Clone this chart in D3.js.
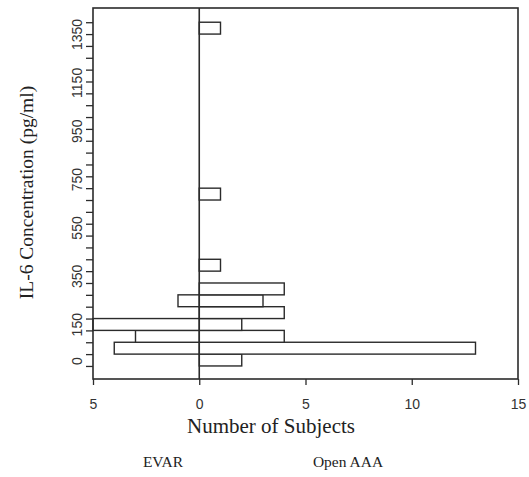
<!DOCTYPE html>
<html>
<head>
<meta charset="utf-8">
<script src="https://cdn.jsdelivr.net/npm/d3@7"></script>
<style>
  html, body { margin: 0; padding: 0; background: #fff; }
  svg { display: block; }
</style>
</head>
<body>
<svg id="chart" width="529" height="477"></svg>
<script>
// ---- Data ----
const binCenters = [0, 50, 100, 150, 200, 250, 300, 400, 700, 1400]; // IL-6 (pg/ml), bin width 50
const openAAACounts = [2, 13, 4, 2, 4, 3, 4, 1, 1, 1];
const evarCounts    = [0, 4, 3, 5, 0, 1, 0, 0, 0, 0];
const binWidth = 50;
const yTickLabels = [0, 150, 350, 550, 750, 950, 1150, 1350];
const xTickValues = [-5, 0, 5, 10, 15];
const xTickLabels = ["5", "0", "5", "10", "15"];
const groupLabels = ["EVAR", "Open AAA"];

(function () {
// ---- Layout ----
const mLeft = 93, mRight = 518, mTop = 8, mBottom = 379;
const ink = "#2b2b2b";

const svg = d3.select("#chart");

const x = d3.scaleLinear().domain([-5, 15]).range([mLeft, mRight]);
const y = d3.scaleLinear().domain([-80, 1485]).range([mBottom, mTop]);
// tick labels in the original sit on a slightly stretched scale
const yLabel = d3.scaleLinear().domain([0, 1350]).range([360.5, 34]);

const data = binCenters.map((b, i) => ({ b, open: openAAACounts[i], evar: evarCounts[i] }));

const g = svg.append("g");

g.selectAll("rect.open").data(data.filter(d => d.open > 0)).enter().append("rect")
  .attr("class", "open")
  .attr("x", x(0))
  .attr("y", d => y(d.b + binWidth / 2))
  .attr("width", d => x(d.open) - x(0))
  .attr("height", d => y(d.b - binWidth / 2) - y(d.b + binWidth / 2))
  .attr("fill", "#fff").attr("stroke", ink).attr("stroke-width", 1.4);

g.selectAll("rect.evar").data(data.filter(d => d.evar > 0)).enter().append("rect")
  .attr("class", "evar")
  .attr("x", d => x(-d.evar))
  .attr("y", d => y(d.b + binWidth / 2))
  .attr("width", d => x(0) - x(-d.evar))
  .attr("height", d => y(d.b - binWidth / 2) - y(d.b + binWidth / 2))
  .attr("fill", "#fff").attr("stroke", ink).attr("stroke-width", 1.4);

// zero line
svg.append("line")
  .attr("x1", x(0)).attr("x2", x(0)).attr("y1", mTop).attr("y2", mBottom)
  .attr("stroke", ink).attr("stroke-width", 1.6);

// frame
svg.append("rect")
  .attr("x", mLeft).attr("y", mTop).attr("width", mRight - mLeft).attr("height", mBottom - mTop)
  .attr("fill", "none").attr("stroke", ink).attr("stroke-width", 1.6);

// y minor ticks at bin edges
const yEdges = d3.range(-25, 1426, 50);
const yTicksAxis = svg.append("g").attr("transform", `translate(${mLeft},0)`)
  .call(d3.axisLeft(y).tickValues(yEdges).tickSize(7).tickFormat(""));
yTicksAxis.select(".domain").remove();
yTicksAxis.selectAll("line").attr("stroke", ink).attr("stroke-width", 1.3);

// y labels (rotated)
const yLabAxis = svg.append("g").attr("transform", `translate(${mLeft},0)`)
  .call(d3.axisLeft(yLabel).tickValues(yTickLabels).tickSize(0).tickPadding(0)
    .tickFormat(d3.format("d")));
yLabAxis.select(".domain").remove();
yLabAxis.selectAll("text")
  .attr("x", null).attr("dy", null)
  .attr("y", -11.5)
  .attr("transform", "rotate(-90)")
  .attr("text-anchor", "middle")
  .attr("font-family", "'Liberation Sans', Arial, sans-serif")
  .attr("font-size", 14)
  .attr("fill", "#333");

// x axis
const xAxis = svg.append("g").attr("transform", `translate(0,${mBottom})`)
  .call(d3.axisBottom(x).tickValues(xTickValues).tickSize(6).tickPadding(14)
    .tickFormat((d, i) => xTickLabels[i]));
xAxis.select(".domain").remove();
xAxis.selectAll("line").attr("stroke", ink).attr("stroke-width", 1.3);
xAxis.selectAll("text")
  .attr("font-family", "'Liberation Sans', Arial, sans-serif")
  .attr("font-size", 14)
  .attr("fill", "#333");

// titles
svg.append("text")
  .attr("x", 271).attr("y", 433)
  .attr("text-anchor", "middle")
  .attr("font-family", "'Liberation Serif', 'Times New Roman', serif")
  .attr("font-size", 21)
  .attr("fill", "#222")
  .text("Number of Subjects");

svg.append("text")
  .attr("transform", "translate(33,192.5) rotate(-90)")
  .attr("text-anchor", "middle")
  .attr("font-family", "'Liberation Serif', 'Times New Roman', serif")
  .attr("font-size", 19.5)
  .attr("fill", "#222")
  .text("IL-6 Concentration (pg/ml)");

// group labels
const groupX = d3.scalePoint().domain(groupLabels).range([163, 348]);
svg.selectAll("text.group").data(groupLabels).enter().append("text")
  .attr("class", "group")
  .attr("x", d => groupX(d)).attr("y", 467)
  .attr("text-anchor", "middle")
  .attr("font-family", "'Liberation Serif', 'Times New Roman', serif")
  .attr("font-size", 15.5)
  .attr("fill", "#222")
  .text(d => d);
})();
</script>
</body>
</html>
